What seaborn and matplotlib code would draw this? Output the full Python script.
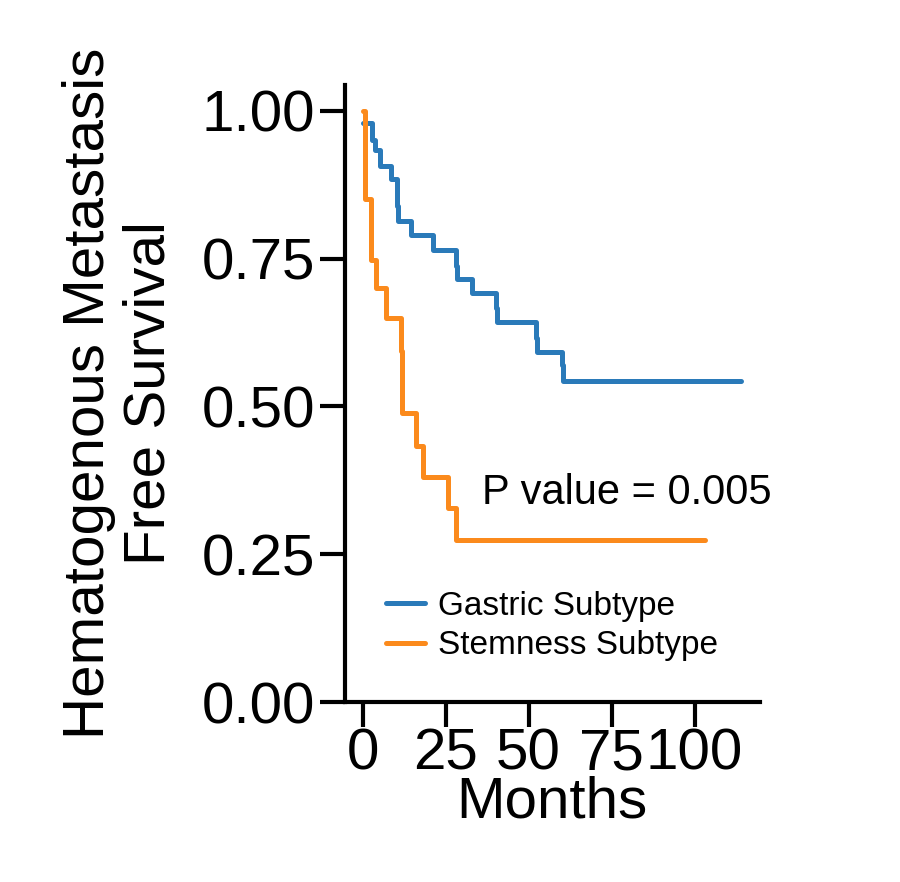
import matplotlib
matplotlib.use("Agg")
import matplotlib.pyplot as plt
import seaborn as sns
import pandas as pd

blue_t = [0, 2.7, 3.6, 5.1, 8.6, 10.5, 10.6, 14.7, 21.1, 28.2, 28.3, 33.1, 40.3, 40.4, 52.3, 52.4, 60.2, 60.3, 114]
blue_s = [0.98, 0.95, 0.934, 0.906, 0.884, 0.839, 0.814, 0.789, 0.764, 0.738, 0.716, 0.691, 0.666, 0.642, 0.615, 0.592, 0.570, 0.543, 0.543]
orange_t = [0, 0.8, 1.5, 2.6, 4.1, 7.1, 11.7, 11.8, 16.2, 18.1, 25.6, 28.2, 103]
orange_s = [1.0, 0.85, 0.85, 0.747, 0.70, 0.649, 0.593, 0.489, 0.433, 0.38, 0.329, 0.274, 0.274]
labels = ["Gastric Subtype", "Stemness Subtype"]

df = pd.concat([
    pd.DataFrame({"Months": blue_t, "S": blue_s, "group": labels[0]}),
    pd.DataFrame({"Months": orange_t, "S": orange_s, "group": labels[1]}),
])

sns.set_style("ticks")
plt.rcParams["font.family"] = ["Liberation Sans", "DejaVu Sans"]
plt.rcParams["text.color"] = "black"
plt.rcParams["axes.labelcolor"] = "black"
plt.rcParams["xtick.color"] = "black"
plt.rcParams["ytick.color"] = "black"
fig = plt.figure(figsize=(9, 8.82), dpi=100)
ax = fig.add_axes([0.383, 0.204, 0.461, 0.70])
sns.lineplot(data=df, x="Months", y="S", hue="group", palette=["#2a7ab9", "#fb8a1c"],
             drawstyle="steps-post", linewidth=3.6, ax=ax, estimator=None, sort=False)
ax.set_xlim(-5.4, 119.6)
ax.set_ylim(0, 1.044)
ax.set_xticks([0, 25, 50, 75, 100])
ax.set_yticks([0, 0.25, 0.5, 0.75, 1.0])
ax.set_yticklabels(["0.00", "0.25", "0.50", "0.75", "1.00"])
for s in ["top", "right"]:
    ax.spines[s].set_visible(False)
for s in ["left", "bottom"]:
    ax.spines[s].set_linewidth(3)
    ax.spines[s].set_color("black")
ax.tick_params(axis="both", width=3, length=18, labelsize=42, color="black", labelcolor="black")
ax.tick_params(axis="x", pad=0)
ax.set_xlabel("Months", fontsize=42, labelpad=-4)
ax.set_ylabel("Hematogenous Metastasis\nFree Survival", fontsize=42, labelpad=18, linespacing=1.15)
ax.text(36.1, 0.354, "P value = 0.005", fontsize=30, va="center", ha="left")
leg = ax.legend(frameon=False, loc="upper left", bbox_to_anchor=(0.1, 0.18), borderaxespad=0,
                borderpad=0, fontsize=24, handlelength=1.15, handletextpad=0.4, labelspacing=0.25)
for t in leg.get_texts():
    t.set_color("black")
fig.savefig("out.png", dpi=100)
